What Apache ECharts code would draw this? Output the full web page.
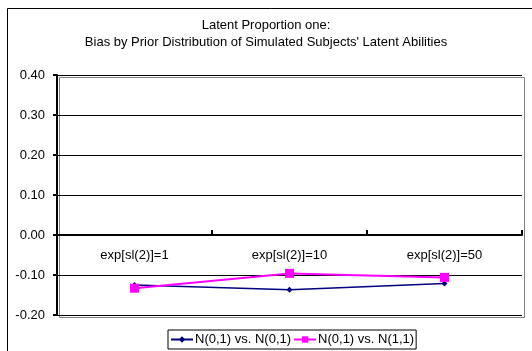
<!DOCTYPE html>
<html><head><meta charset="utf-8">
<script src="https://cdn.jsdelivr.net/npm/echarts@6/dist/echarts.min.js"></script>
<style>html,body{margin:0;padding:0;background:#fff}#c{width:532px;height:351px}</style>
</head><body><div id="c"></div>
<script>
var categories = ['exp[sl(2)]=1', 'exp[sl(2)]=10', 'exp[sl(2)]=50'];
var seriesNames = ['N(0,1) vs. N(0,1)', 'N(0,1) vs. N(1,1)'];
var seriesA = [-0.125, -0.137, -0.121];
var seriesB = [-0.133, -0.096, -0.106];
var titleLines = ['Latent Proportion one:', "Bias by Prior Distribution of Simulated Subjects' Latent Abilities"];

var chart = echarts.init(document.getElementById('c'), null, {renderer: 'canvas'});
var font = 'Liberation Sans, Arial, sans-serif';
chart.setOption({
  animation: false,
  backgroundColor: '#fff',
  title: {
    text: titleLines.join('\n'),
    left: 266, top: 17, textAlign: 'center', padding: 0,
    textStyle: {fontFamily: font, fontSize: 13, fontWeight: 'normal', color: '#000', lineHeight: 17}
  },
  graphic: [
    {type: 'rect', left: 5, top: 6, shape: {x: 0, y: 0, width: 526, height: 352}, style: {fill: 'none', stroke: '#000', lineWidth: 1}, silent: true, z: -1},
    {type: 'rect', left: 57, top: 75, shape: {x: 0, y: 0, width: 465, height: 240}, style: {fill: 'none', stroke: '#808080', lineWidth: 1}, silent: true, z: -1}
  ],
  legend: {
    data: seriesNames,
    left: 168, top: 330,
    itemWidth: 22, itemHeight: 8, itemGap: 2,
    padding: [3, 2, 3, 2],
    borderColor: '#000', borderWidth: 1, borderRadius: 0,
    textStyle: {fontFamily: font, fontSize: 13, color: '#000', padding: [0, 0, 0, -3]}
  },
  grid: {left: 57, right: 10, top: 75, bottom: 36, containLabel: false},
  xAxis: {
    type: 'category', data: categories, boundaryGap: true,
    position: 'bottom', offset: -80,
    axisLine: {onZero: false, lineStyle: {color: '#000', width: 2}},
    axisTick: {show: true, inside: true, length: 5, lineStyle: {color: '#000', width: 2}},
    axisLabel: {fontFamily: font, fontSize: 13, color: '#000', margin: 14},
    splitLine: {show: false}
  },
  yAxis: {
    type: 'value', min: -0.2, max: 0.4, interval: 0.1,
    axisLine: {show: true, lineStyle: {color: '#000', width: 2}},
    axisTick: {show: true, length: 4, lineStyle: {color: '#000', width: 2}},
    axisLabel: {fontFamily: font, fontSize: 13, color: '#000', margin: 12, formatter: function(v){return v.toFixed(2);}},
    splitLine: {show: true, lineStyle: {color: '#000', width: 1}}
  },
  series: [
    {name: seriesNames[0], type: 'line', data: seriesA, symbol: 'diamond', symbolSize: 6,
     itemStyle: {color: '#000080'}, lineStyle: {color: '#000080', width: 1.5}},
    {name: seriesNames[1], type: 'line', data: seriesB, symbol: 'rect', symbolSize: 9,
     itemStyle: {color: '#FF00FF'}, lineStyle: {color: '#FF00FF', width: 2}}
  ]
});
</script></body></html>
